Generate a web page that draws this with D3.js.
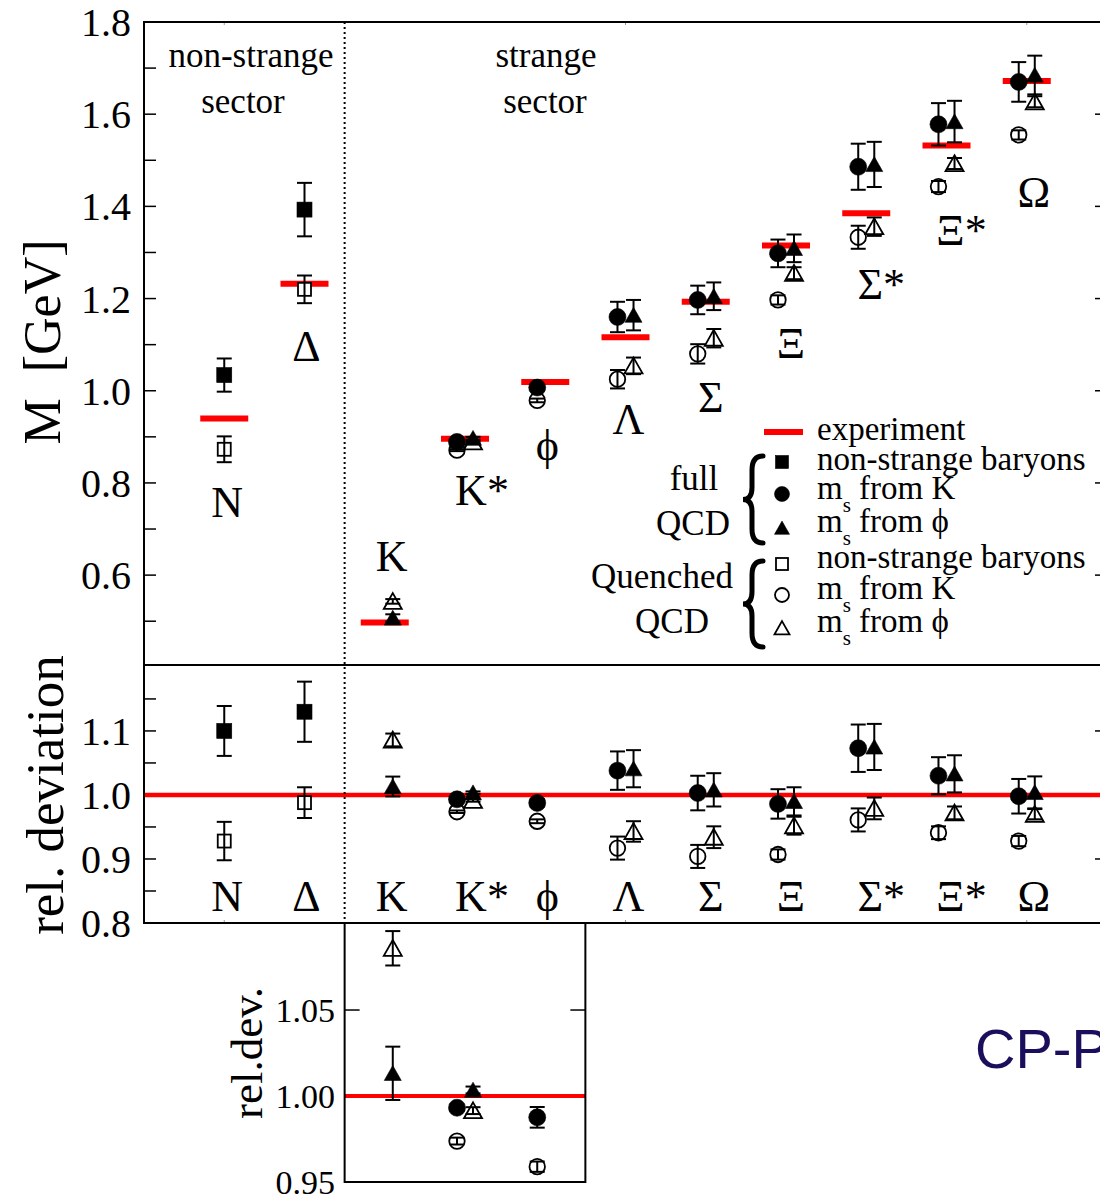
<!DOCTYPE html>
<html><head><meta charset="utf-8">
<script src="https://cdn.jsdelivr.net/npm/d3@7"></script>
<style>body{margin:0;background:#fff;} svg{display:block;} text{font-family:"Liberation Serif","Times New Roman",serif;}</style>
</head><body>
<svg id="chart" width="1100" height="1198"></svg>
<script>
// ---------------- data ----------------
const categories = ["N","Δ","K","K*","ϕ","Λ","Σ","Ξ","Σ*","Ξ*","Ω"];
const experiment = [0.940,1.232,0.497,0.896,1.019,1.116,1.193,1.315,1.385,1.532,1.672];
// [categoryIndex, mass (GeV), error]
const fullNonStrange      = [[0,1.034,0.036],[1,1.393,0.058]];
const quenchedNonStrange  = [[0,0.873,0.028],[1,1.220,0.030]];
const fullMsK     = [[3,0.889,0.004],[4,1.007,0.006],[5,1.160,0.033],[6,1.197,0.031],[7,1.298,0.030],[8,1.486,0.050],[9,1.578,0.046],[10,1.670,0.043]];
const fullMsPhi   = [[2,0.507,0.008],[3,0.897,0.003],[5,1.164,0.033],[6,1.205,0.030],[7,1.309,0.030],[8,1.491,0.049],[9,1.584,0.045],[10,1.685,0.042]];
const quenchedMsK = [[3,0.871,0.002],[4,0.979,0.004],[5,1.025,0.020],[6,1.080,0.021],[7,1.197,0.010],[8,1.333,0.025],[9,1.443,0.012],[10,1.555,0.010]];
const quenchedMsPhi=[[2,0.543,0.005],[3,0.889,0.002],[5,1.054,0.018],[6,1.114,0.020],[7,1.255,0.013],[8,1.356,0.020],[9,1.493,0.012],[10,1.627,0.012]];
// relative deviation [categoryIndex, ratio, error]
const relFullNonStrange     = [[0,1.100,0.039],[1,1.130,0.047]];
const relQuenchedNonStrange = [[0,0.928,0.030],[1,0.988,0.024]];
const relFullMsK     = [[3,0.9932,0.002],[4,0.9876,0.006],[5,1.038,0.030],[6,1.003,0.027],[7,0.986,0.023],[8,1.073,0.037],[9,1.030,0.029],[10,0.998,0.027]];
const relFullMsPhi   = [[2,1.0132,0.0155],[3,1.0035,0.002],[5,1.041,0.029],[6,1.008,0.026],[7,0.990,0.022],[8,1.075,0.036],[9,1.033,0.029],[10,1.004,0.025]];
const relQuenchedMsK = [[3,0.9738,0.002],[4,0.9589,0.003],[5,0.917,0.018],[6,0.904,0.018],[7,0.907,0.008],[8,0.961,0.018],[9,0.941,0.010],[10,0.928,0.008]];
const relQuenchedMsPhi=[[2,1.0859,0.010],[3,0.9915,0.002],[5,0.943,0.016],[6,0.934,0.017],[7,0.952,0.014],[8,0.979,0.017],[9,0.972,0.010],[10,0.970,0.008]];
const massTickLabels  = ["0.6","0.8","1.0","1.2","1.4","1.6","1.8"];
const relTickLabels   = ["0.8","0.9","1.0","1.1"];
const insetTickLabels = ["0.95","1.00","1.05"];
// label baselines in the mass panel (GeV)
const topLabelMass = [0.727,1.064,0.609,0.752,0.850,0.907,0.954,1.071,1.200,1.316,1.398];

// ---------------- layout ----------------
const svg = d3.select("#chart");
const X0 = 144, X1 = 1107, T0 = 22, T1 = 665, R1 = 923, I1 = 1182;
const x = d3.scaleLinear().domain([-1, 11]).range([X0, X1]);
const yTop = d3.scaleLinear().domain([0.405, 1.8]).range([T1, T0]);
const yRel = d3.scaleLinear().domain([0.8, 1.203]).range([R1, T1]);
const yIn  = d3.scaleLinear().domain([0.95, 1.1006]).range([I1, R1]);
const labelDx = [3,2,7,17,2,3,5,5,15,15,7];
const RED = "#ff0000";

function marker(g, type, cx, cy, s) {
  const filled = type.endsWith("F");
  let el;
  if (type.startsWith("sq")) el = g.append("rect").attr("x", cx - s/2).attr("y", cy - s/2).attr("width", s).attr("height", s);
  else if (type.startsWith("cir")) el = g.append("circle").attr("cx", cx).attr("cy", cy).attr("r", s/2);
  else el = g.append("path").attr("d", `M${cx},${cy - s*0.46}L${cx + s/2},${cy + s*0.42}L${cx - s/2},${cy + s*0.42}Z`);
  el.attr("fill", filled ? "#000" : "#fff").attr("stroke", "#000").attr("stroke-width", filled ? 0.6 : 1.8);
}
const sizes = {sqF:15, sqO:13, cirF:17, cirO:15.5, triF:17, triO:18};
function series(g, data, ys, type, off) {
  data.forEach(([i, v, e]) => {
    const cx = x(i + off), cy = ys(v);
    marker(g, type, cx, cy, sizes[type]);
    const y0 = ys(v - e), y1 = ys(v + e);
    g.append("line").attr("x1", cx).attr("x2", cx).attr("y1", y0).attr("y2", y1).attr("stroke", "#000").attr("stroke-width", 2);
    [y0, y1].forEach(yy => g.append("line").attr("x1", cx - 7.5).attr("x2", cx + 7.5).attr("y1", yy).attr("y2", yy).attr("stroke", "#000").attr("stroke-width", 2));
  });
}
function drawAll(g, ys, sets) {
  series(g, sets[1], ys, "sqO", 0);
  series(g, sets[4], ys, "cirO", -0.1);
  series(g, sets[5], ys, "triO", 0.1);
  series(g, sets[0], ys, "sqF", 0);
  series(g, sets[2], ys, "cirF", -0.1);
  series(g, sets[3], ys, "triF", 0.1);
}

// ---------------- top panel ----------------
const gTop = svg.append("g");
d3.range(5, 18).forEach(k => {
  const yy = yTop(k / 10);
  gTop.append("line").attr("x1", X0).attr("x2", X0 + 12).attr("y1", yy).attr("y2", yy).attr("stroke", "#000").attr("stroke-width", 1.5);
});
massTickLabels.forEach(t => {
  const yy = yTop(+t);
  gTop.append("line").attr("x1", X1 - 12).attr("x2", X1).attr("y1", yy).attr("y2", yy).attr("stroke", "#000").attr("stroke-width", 1.5);
  gTop.append("text").attr("x", 131).attr("y", yy + 14).attr("text-anchor", "end").attr("font-size", 40).text(t);
});
[0, 5, 10].forEach(i => {
  gTop.append("line").attr("x1", x(i)).attr("x2", x(i)).attr("y1", T0).attr("y2", T0 + 3).attr("stroke", "#999").attr("stroke-width", 1);
  gTop.append("line").attr("x1", x(i)).attr("x2", x(i)).attr("y1", R1).attr("y2", R1 - 3).attr("stroke", "#999").attr("stroke-width", 1);
});
experiment.forEach((v, i) => {
  gTop.append("line").attr("x1", x(i) - 24).attr("x2", x(i) + 24).attr("y1", yTop(v)).attr("y2", yTop(v)).attr("stroke", RED).attr("stroke-width", 6);
});
drawAll(gTop, yTop, [fullNonStrange, quenchedNonStrange, fullMsK, fullMsPhi, quenchedMsK, quenchedMsPhi]);
categories.forEach((c, i) => {
  gTop.append("text").attr("x", x(i) + labelDx[i]).attr("y", yTop(topLabelMass[i])).attr("text-anchor", "middle").attr("font-size", 44).text(c);
});
[["non-strange", 251, 67], ["sector", 243, 113], ["strange", 546, 67], ["sector", 545, 113]].forEach(([t, xx, yy]) => {
  gTop.append("text").attr("x", xx).attr("y", yy).attr("text-anchor", "middle").attr("font-size", 35).text(t);
});

// ---------------- legend ----------------
const leg = svg.append("g");
leg.append("line").attr("x1", 764).attr("x2", 803).attr("y1", 432).attr("y2", 432).attr("stroke", RED).attr("stroke-width", 6);
leg.append("text").attr("x", 817).attr("y", 440).attr("font-size", 33).text("experiment");
const legRows = [["sqF", 462, 470, "non-strange baryons", null], ["cirF", 494, 499, "m", "K"], ["triF", 528, 532, "m", "ϕ"],
                 ["sqO", 564, 568, "non-strange baryons", null], ["cirO", 595, 599, "m", "K"], ["triO", 628, 632, "m", "ϕ"]];
const legSizes = {sqF:13, sqO:12, cirF:15, cirO:14, triF:15, triO:15};
legRows.forEach(([type, my, ty, txt, from]) => {
  marker(leg, type, 782, my, legSizes[type]);
  const t = leg.append("text").attr("x", 817).attr("y", ty).attr("font-size", 33);
  if (from === null) t.text(txt);
  else {
    t.append("tspan").text("m");
    t.append("tspan").attr("font-size", 21).attr("dy", 13).text("s");
    t.append("tspan").attr("dy", -13).text(" from " + from);
  }
});
function brace(g, xr, y0, y1) {
  const ym = (y0 + y1) / 2, w = 20;
  const xm = xr - w * 0.55;
  g.append("path").attr("d",
    `M${xr},${y0} Q${xm},${y0} ${xm},${y0 + 14} L${xm},${ym - 12} Q${xm},${ym} ${xr - w},${ym} Q${xm},${ym} ${xm},${ym + 12} L${xm},${y1 - 14} Q${xm},${y1} ${xr},${y1}`)
   .attr("fill", "none").attr("stroke", "#000").attr("stroke-width", 5).attr("stroke-linecap", "round");
}
brace(leg, 763, 456, 543);
brace(leg, 763, 561, 647);
[["full", 694, 490], ["QCD", 693, 535], ["Quenched", 662, 588], ["QCD", 672, 633]].forEach(([t, xx, yy]) => {
  leg.append("text").attr("x", xx).attr("y", yy).attr("text-anchor", "middle").attr("font-size", 35).text(t);
});

// ---------------- relative deviation panel ----------------
const rel = svg.append("g");
d3.range(17, 24).forEach(k => {
  const yy = yRel(k / 20);
  rel.append("line").attr("x1", X0).attr("x2", X0 + 12).attr("y1", yy).attr("y2", yy).attr("stroke", "#000").attr("stroke-width", 1.5);
});
relTickLabels.forEach(t => {
  const yy = yRel(+t);
  if (+t > 0.8) rel.append("line").attr("x1", X1 - 12).attr("x2", X1).attr("y1", yy).attr("y2", yy).attr("stroke", "#000").attr("stroke-width", 1.5);
  rel.append("text").attr("x", 131).attr("y", yy + 14).attr("text-anchor", "end").attr("font-size", 40).text(t);
});
rel.append("line").attr("x1", X0).attr("x2", X1).attr("y1", yRel(1)).attr("y2", yRel(1)).attr("stroke", RED).attr("stroke-width", 4.5);
drawAll(rel, yRel, [relFullNonStrange, relQuenchedNonStrange, relFullMsK, relFullMsPhi, relQuenchedMsK, relQuenchedMsPhi]);
categories.forEach((c, i) => {
  rel.append("text").attr("x", x(i) + labelDx[i]).attr("y", 911).attr("text-anchor", "middle").attr("font-size", 44).text(c);
});

// ---------------- inset ----------------
const ins = svg.append("g");
const IX0 = x(1.5), IX1 = x(4.5);
insetTickLabels.forEach(t => {
  const yy = yIn(+t);
  if (+t > 0.95) {
    ins.append("line").attr("x1", IX0).attr("x2", IX0 + 15).attr("y1", yy).attr("y2", yy).attr("stroke", "#000").attr("stroke-width", 1.5);
    ins.append("line").attr("x1", IX1 - 15).attr("x2", IX1).attr("y1", yy).attr("y2", yy).attr("stroke", "#000").attr("stroke-width", 1.5);
  }
  ins.append("text").attr("x", 335).attr("y", Math.min(yy + 12, 1196)).attr("text-anchor", "end").attr("font-size", 34).text(t);
});
ins.append("line").attr("x1", IX0).attr("x2", IX1).attr("y1", yIn(1)).attr("y2", yIn(1)).attr("stroke", RED).attr("stroke-width", 4);
const inSets = [relFullNonStrange, relQuenchedNonStrange, relFullMsK, relFullMsPhi, relQuenchedMsK, relQuenchedMsPhi]
  .map(s => s.filter(d => d[0] >= 2 && d[0] <= 4));
drawAll(ins, yIn, inSets);
ins.append("rect").attr("x", IX0).attr("y", R1).attr("width", IX1 - IX0).attr("height", I1 - R1).attr("fill", "none").attr("stroke", "#000").attr("stroke-width", 2);
ins.append("text").attr("transform", "translate(262,1053) rotate(-90)").attr("text-anchor", "middle").attr("font-size", 45).text("rel.dev.");

// ---------------- frames, dotted line, titles ----------------
svg.append("line").attr("x1", x(1.5)).attr("x2", x(1.5)).attr("y1", T0).attr("y2", R1).attr("stroke", "#000").attr("stroke-width", 2).attr("stroke-dasharray", "2,3");
svg.append("rect").attr("x", X0).attr("y", T0).attr("width", X1 - X0).attr("height", T1 - T0).attr("fill", "none").attr("stroke", "#000").attr("stroke-width", 2);
svg.append("rect").attr("x", X0).attr("y", T1).attr("width", X1 - X0).attr("height", R1 - T1).attr("fill", "none").attr("stroke", "#000").attr("stroke-width", 2);
svg.append("text").attr("transform", "translate(60,342) rotate(-90)").attr("text-anchor", "middle").attr("font-size", 52).style("white-space", "pre").text("M  [GeV]");
svg.append("text").attr("transform", "translate(63,795) rotate(-90)").attr("text-anchor", "middle").attr("font-size", 53).text("rel. deviation");
svg.append("text").attr("x", 975).attr("y", 1068).attr("font-size", 56).attr("fill", "#1a0f5c").style("font-family", "'Liberation Sans', Arial, sans-serif").text("CP-PACS");
</script>
</body></html>
